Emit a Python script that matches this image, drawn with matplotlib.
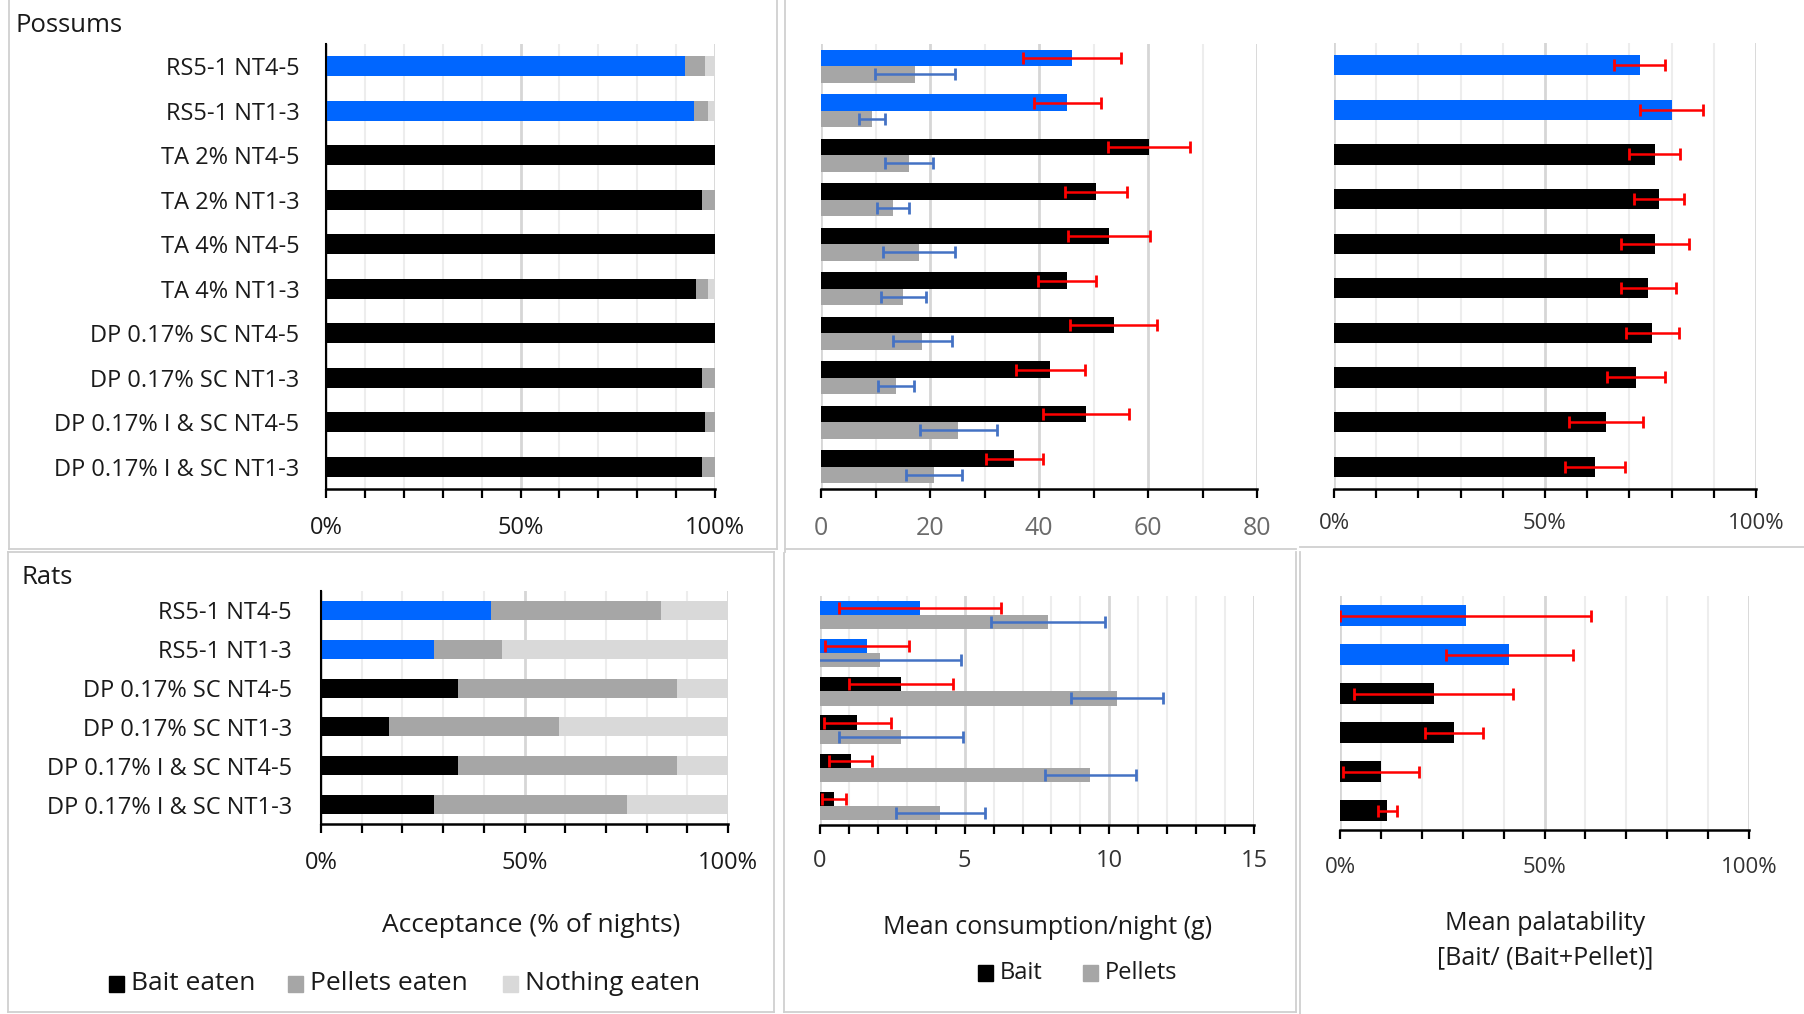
import matplotlib
matplotlib.use('Agg')
import matplotlib.pyplot as plt
from matplotlib.patches import Rectangle

# acceptance, consumption and palatability of baits, possums (top) and rats (bottom)
possum_labels = ['RS5-1 NT4-5', 'RS5-1 NT1-3', 'TA 2% NT4-5', 'TA 2% NT1-3',
                 'TA 4% NT4-5', 'TA 4% NT1-3', 'DP 0.17% SC NT4-5', 'DP 0.17% SC NT1-3',
                 'DP 0.17% I & SC NT4-5', 'DP 0.17% I & SC NT1-3']
possum_bait_eaten = [92.2, 94.5, 100, 96.7, 100, 95.2, 100, 96.7, 97.5, 96.7]
possum_pellets_eaten = [5.3, 3.6, 0, 3.3, 0, 3.1, 0, 3.3, 2.5, 3.3]
possum_nothing_eaten = [2.5, 1.9, 0, 0, 0, 1.7, 0, 0, 0, 0]

possum_bait_g = [46.1, 45.2, 60.2, 50.4, 52.9, 45.2, 53.7, 42.1, 48.7, 35.5]
possum_bait_g_err = [9.0, 6.2, 7.5, 5.7, 7.5, 5.3, 8.0, 6.4, 7.9, 5.3]
possum_pellet_g = [17.2, 9.4, 16.2, 13.2, 17.9, 15.1, 18.6, 13.7, 25.2, 20.7]
possum_pellet_g_err = [7.3, 2.4, 4.4, 3.0, 6.6, 4.1, 5.4, 3.3, 7.1, 5.1]

possum_palat = [72.4, 80.0, 76.0, 77.0, 76.0, 74.5, 75.4, 71.5, 64.5, 61.8]
possum_palat_err = [6.0, 7.5, 6.0, 6.0, 8.1, 6.5, 6.3, 6.9, 8.7, 7.1]

rat_labels = ['RS5-1 NT4-5', 'RS5-1 NT1-3', 'DP 0.17% SC NT4-5', 'DP 0.17% SC NT1-3',
              'DP 0.17% I & SC NT4-5', 'DP 0.17% I & SC NT1-3']
rat_bait_eaten = [41.8, 27.8, 33.6, 16.8, 33.6, 27.8]
rat_pellets_eaten = [41.7, 16.7, 53.9, 41.7, 53.9, 47.3]
rat_nothing_eaten = [16.5, 55.5, 12.5, 41.5, 12.5, 24.9]

rat_bait_g = [3.46, 1.64, 2.79, 1.29, 1.06, 0.48]
rat_bait_g_err = [2.80, 1.45, 1.80, 1.15, 0.74, 0.42]
rat_pellet_g = [7.88, 2.09, 10.26, 2.79, 9.34, 4.16]
rat_pellet_g_err = [1.96, 2.78, 1.58, 2.15, 1.58, 1.54]

rat_palat = [30.7, 41.4, 22.9, 27.9, 10.0, 11.6]
rat_palat_err = [30.7, 15.5, 19.4, 7.0, 9.2, 2.4]

BLUE = '#0066ff'
BLACK = '#000000'
GREY = '#a6a6a6'
LIGHT = '#d9d9d9'
RED = '#ff0000'
ERR_BLUE = '#4472c4'
N_RS = 2  # the RS5-1 rows are drawn in blue

NARROW = ['Liberation Sans Narrow', 'Open Sans', 'DejaVu Sans']
plt.rcParams['font.family'] = ['Open Sans', 'DejaVu Sans']

W, H = 1804, 1014
fig = plt.figure(figsize=(W / 100, H / 100), dpi=100)


def place(x0, x1, ytop, ybot):
    return fig.add_axes([x0 / W, 1 - ybot / H, (x1 - x0) / W, (ybot - ytop) / H])


def bait_colors(n):
    return [BLUE if i < N_RS else BLACK for i in range(n)]


def setup(ax, n, top, step, labelled, fmt, black_left=False, color='#333333',
          size=16, pad=9):
    ticks = list(range(0, top + 1, step))
    ax.set_xlim(0, top)
    ax.set_ylim(n - 0.5, -0.5)
    ax.set_xticks(ticks)
    ax.set_xticklabels([fmt(t) if t in labelled else '' for t in ticks])
    for t in ticks:
        major = t in labelled
        ax.axvline(t, color='#d6d6d6' if major else '#ededed',
                   lw=2.0 if major else 1.5, zorder=0)
    for s in ('top', 'right'):
        ax.spines[s].set_visible(False)
    ax.spines['bottom'].set_linewidth(1.8)
    if black_left:
        ax.spines['left'].set_linewidth(1.5)
    else:
        ax.spines['left'].set_visible(False)
    ax.tick_params(axis='x', direction='out', length=6.5, width=1.6,
                   labelsize=size, labelcolor=color, pad=pad)
    ax.tick_params(axis='y', length=0)
    ax.set_yticks([])


def stacked(ax, labels, bait, pellets, nothing, height, label_pad):
    y = range(len(labels))
    ax.barh(y, bait, height, color=bait_colors(len(labels)), zorder=2)
    ax.barh(y, pellets, height, left=bait, color=GREY, zorder=2)
    left2 = [b + p for b, p in zip(bait, pellets)]
    ax.barh(y, nothing, height, left=left2, color=LIGHT, zorder=2)
    ax.set_yticks(list(y))
    ax.set_yticklabels(labels, family=NARROW, fontsize=17, color='#1a1a1a')
    ax.tick_params(axis='y', length=0, pad=label_pad)


def errbars(ax, vals, y, errs, color):
    ax.errorbar(vals, y, xerr=errs, fmt='none', ecolor=color, elinewidth=1.8,
                capsize=4.2, capthick=2.0, zorder=3)


def paired(ax, bait, bait_err, pellet, pellet_err, h):
    n = len(bait)
    yb = [i - h / 2 for i in range(n)]
    yp = [i + h / 2 for i in range(n)]
    ax.barh(yb, bait, h, color=bait_colors(n), zorder=2)
    ax.barh(yp, pellet, h, color=GREY, zorder=2)
    errbars(ax, bait, yb, bait_err, RED)
    errbars(ax, pellet, yp, pellet_err, ERR_BLUE)


def single(ax, vals, errs, h):
    n = len(vals)
    ax.barh(range(n), vals, h, color=bait_colors(n), zorder=2)
    errbars(ax, vals, list(range(n)), errs, RED)


pct = lambda t: '%d%%' % t
num = lambda t: '%d' % t

# possums
ax1 = place(326, 715, 44, 489)
setup(ax1, 10, 100, 10, (0, 50, 100), pct, black_left=True, color='#1a1a1a',
      size=17, pad=13)
stacked(ax1, possum_labels, possum_bait_eaten, possum_pellets_eaten,
        possum_nothing_eaten, 0.45, 19)

ax2 = place(821, 1257, 44, 489)
setup(ax2, 10, 80, 10, (0, 20, 40, 60, 80), num, color='#6b6b6b', size=18, pad=13)
paired(ax2, possum_bait_g, possum_bait_g_err, possum_pellet_g, possum_pellet_g_err, 0.37)

ax3 = place(1334, 1756, 43, 489)
setup(ax3, 10, 100, 10, (0, 50, 100), pct, size=16, pad=11)
single(ax3, possum_palat, possum_palat_err, 0.45)

# rats
ax4 = place(321, 728, 591, 824)
setup(ax4, 6, 100, 10, (0, 50, 100), pct, black_left=True, color='#1a1a1a',
      size=17, pad=13)
stacked(ax4, rat_labels, rat_bait_eaten, rat_pellets_eaten, rat_nothing_eaten, 0.49, 21)

ax5 = place(820, 1254, 596, 825)
setup(ax5, 6, 15, 1, (0, 5, 10, 15), num, size=17, pad=11)
paired(ax5, rat_bait_g, rat_bait_g_err, rat_pellet_g, rat_pellet_g_err, 0.37)

ax6 = place(1340, 1749, 596, 830)
setup(ax6, 6, 100, 10, (0, 50, 100), pct, size=16, pad=13)
single(ax6, rat_palat, rat_palat_err, 0.55)


def ftext(x, y, s, **kw):
    fig.text(x / W, 1 - y / H, s, **kw)


def swatch(x, y, color, text, family, size):
    fig.add_artist(Rectangle((x / W, 1 - (y + 8) / H), 15 / W, 16 / H,
                             transform=fig.transFigure, color=color))
    ftext(x + 22, y, text, family=family, fontsize=size, va='center', ha='left',
          color='#1a1a1a')


ftext(15, 25, 'Possums', family=NARROW, fontsize=18.5, va='center', color='#1a1a1a')
ftext(22, 578, 'Rats', family=NARROW, fontsize=18.5, va='center', color='#1a1a1a')

ftext(531, 926, 'Acceptance (% of nights)', family=NARROW, fontsize=19,
      ha='center', va='center', color='#1a1a1a')
swatch(109, 984, BLACK, 'Bait eaten', NARROW, 19)
swatch(288, 984, GREY, 'Pellets eaten', NARROW, 19)
swatch(503, 984, LIGHT, 'Nothing eaten', NARROW, 19)

ftext(1048, 928, 'Mean consumption/night (g)', fontsize=18, ha='center',
      va='center', color='#1a1a1a')
swatch(978, 973, BLACK, 'Bait', None, 17)
swatch(1083, 973, GREY, 'Pellets', None, 17)

ftext(1545, 923, 'Mean palatability', fontsize=18, ha='center', va='center',
      color='#1a1a1a')
ftext(1545, 958, '[Bait/ (Bait+Pellet)]', fontsize=18, ha='center', va='center',
      color='#1a1a1a')

# light frames around each chart block
def line(x0, y0, x1, y1):
    fig.add_artist(plt.Line2D([x0 / W, x1 / W], [1 - y0 / H, 1 - y1 / H],
                              transform=fig.transFigure, color='#d0d0d0', lw=1.3))

line(9, 0, 9, 549); line(9, 549, 777, 549); line(777, 0, 777, 549)
line(785, 0, 785, 552); line(785, 549, 1296, 549)
line(1300, 547, W, 547)
line(8, 552, 8, 1012); line(8, 552, 774, 552); line(774, 552, 774, 1012); line(8, 1012, 774, 1012)
line(784, 553, 784, 1012); line(784, 1012, 1296, 1012); line(1296, 552, 1296, 1012)
line(1300, 552, 1300, 1014)

fig.savefig('out.png', dpi=100)
